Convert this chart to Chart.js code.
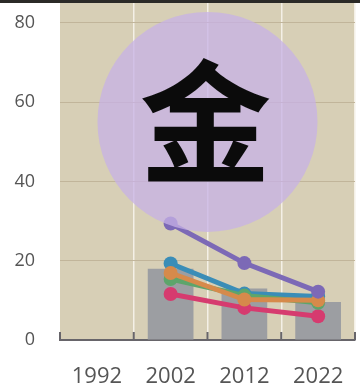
<!DOCTYPE html>
<html>
<head>
<meta charset="utf-8">
<script src="https://cdn.jsdelivr.net/npm/chart.js@4.4.0/dist/chart.umd.min.js"></script>
<style>
  html, body { margin: 0; padding: 0; background: #ffffff; overflow: hidden; }
  #wrap { position: relative; width: 360px; height: 390px; }
  #topBand { position: absolute; left: 0; top: 0; width: 360px; height: 3px; background: #2b2a27; }
</style>
</head>
<body>
<div id="wrap">
  <canvas id="chart" width="360" height="390"></canvas>
  <div id="topBand"></div>
</div>
<script>
// --- Data ---
const years = ['1992', '2002', '2012', '2022'];
const barValues = [null, 18, 13, 9.6];
const purpleValues = [null, 29.4, 19.4, 12.2];
const orangeValues = [null, 16.9, 10.2, 10.0];
const greenValues = [null, 15.4, 11.2, 9.4];
const blueValues = [null, 19.3, 11.7, 11.0];
const pinkValues = [null, 11.6, 8.1, 6.0];
const bubblePoint = { x: 1.5, y: 55, r: 110 };
const bubbleLabel = '金';

const colors = {
    plot: '#d7cfb6',
    bar: '#9c9ea2',
    purple: '#7c69b6',
    orange: '#d68a4b',
    green: '#5da56b',
    blue: '#3a8db7',
    pink: '#d63b6f',
    bubble: 'rgba(199, 178, 229, 0.75)',
    gridH: '#c1b59a',
    gridV: '#f4f0e6',
    axis: '#67656a',
    text: '#555555'
};

function lineSet(label, data, color) {
    return {
        type: 'line',
        label,
        data,
        xAxisID: 'x',
        order: 1,
        borderColor: color,
        backgroundColor: color,
        borderWidth: 5,
        pointRadius: 7,
        pointBorderWidth: 0,
        tension: 0
    };
}

// paints the plot background before anything else
const plotBackground = {
    id: 'plotBackground',
    beforeDraw(chart) {
        const { ctx, chartArea } = chart;
        ctx.save();
        ctx.fillStyle = colors.plot;
        ctx.fillRect(chartArea.left, chartArea.top, chartArea.right - chartArea.left, chartArea.bottom - chartArea.top);
        ctx.restore();
    }
};

// short tick marks pointing up from the x axis, at category boundaries
const innerTicks = {
    id: 'innerTicks',
    afterDraw(chart) {
        const { ctx, chartArea, scales } = chart;
        const xs = scales.x;
        const step = xs.getPixelForValue(1) - xs.getPixelForValue(0);
        ctx.save();
        ctx.strokeStyle = colors.axis;
        ctx.lineWidth = 2;
        for (let i = 0; i <= years.length; i++) {
            const px = xs.getPixelForValue(0) - step / 2 + i * step;
            ctx.beginPath();
            ctx.moveTo(px, chartArea.bottom);
            ctx.lineTo(px, chartArea.bottom - 8);
            ctx.stroke();
        }
        ctx.restore();
    }
};

// the big character on the bubble
const bubbleText = {
    id: 'bubbleText',
    afterDatasetsDraw(chart) {
        const pt = chart.getDatasetMeta(0).data[0];
        if (!pt) return;
        const { ctx } = chart;
        ctx.save();
        ctx.fillStyle = '#0b0b0b';
        ctx.font = 'bold 132px "Noto Sans CJK SC"';
        ctx.textAlign = 'center';
        ctx.textBaseline = 'middle';
        ctx.fillText(bubbleLabel, pt.x - 2, pt.y);
        ctx.restore();
    }
};

const chart = new Chart(document.getElementById('chart'), {
    data: {
        labels: years,
        datasets: [
            {
                type: 'bubble',
                xAxisID: 'xb',
                data: [bubblePoint],
                order: 0,
                backgroundColor: colors.bubble,
                borderWidth: 0,
                clip: false
            },
            lineSet('Purple', purpleValues, colors.purple),
            lineSet('Orange', orangeValues, colors.orange),
            lineSet('Green', greenValues, colors.green),
            lineSet('Blue', blueValues, colors.blue),
            lineSet('Pink', pinkValues, colors.pink),
            {
                type: 'bar',
                xAxisID: 'x',
                data: barValues,
                order: 2,
                grouped: false,
                backgroundColor: colors.bar,
                barPercentage: 0.62,
                categoryPercentage: 1
            }
        ]
    },
    options: {
        responsive: false,
        animation: false,
        devicePixelRatio: 1,
        layout: { autoPadding: false, padding: { top: 3, right: 5, left: 0, bottom: 0 } },
        plugins: {
            legend: { display: false },
            tooltip: { enabled: false }
        },
        scales: {
            x: {
                type: 'category',
                offset: true,
                afterFit: scale => {
                    scale.height = 50;
                    scale.paddingLeft = 0;
                    scale.paddingRight = 0;
                },
                grid: {
                    offset: true,
                    drawTicks: false,
                    color: ctx => (ctx.index === 0 ? 'rgba(0,0,0,0)' : colors.gridV),
                    lineWidth: 1.5
                },
                border: { display: true, color: colors.axis, width: 2 },
                ticks: {
                    color: colors.text,
                    padding: 24,
                    maxRotation: 0,
                    autoSkip: false,
                    font: { family: '"Open Sans"', size: 22 }
                }
            },
            xb: {
                type: 'linear',
                position: 'bottom',
                display: false,
                min: -0.5,
                max: years.length - 0.5
            },
            y: {
                min: 0,
                max: 85,
                afterFit: scale => {
                    scale.width = 60;
                    scale.paddingTop = 0;
                    scale.paddingBottom = 0;
                },
                grid: {
                    drawTicks: false,
                    color: ctx => (ctx.tick && ctx.tick.value > 0 ? colors.gridH : 'rgba(0,0,0,0)'),
                    lineWidth: 1
                },
                border: { display: false },
                ticks: {
                    stepSize: 20,
                    includeBounds: false,
                    autoSkip: false,
                    padding: 25,
                    color: colors.text,
                    font: { family: '"Open Sans"', size: 18 }
                }
            }
        }
    },
    plugins: [plotBackground, innerTicks, bubbleText]
});
</script>
</body>
</html>
